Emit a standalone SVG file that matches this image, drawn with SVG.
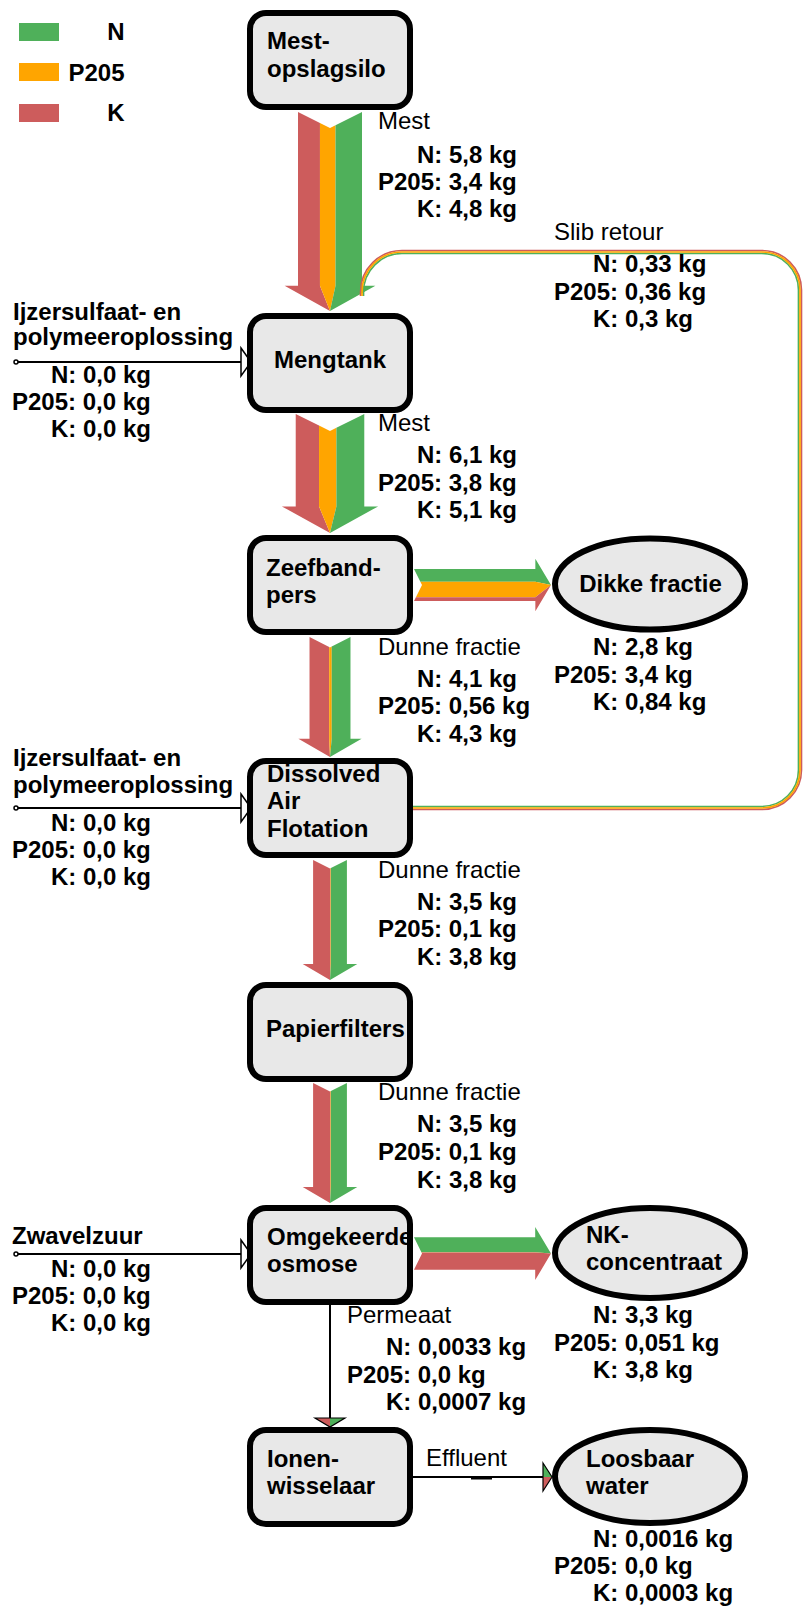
<svg xmlns="http://www.w3.org/2000/svg" width="804" height="1608" viewBox="0 0 804 1608">
<style>
  text { font-family: "Liberation Sans", Arial, Helvetica, sans-serif; font-size: 24px; fill: #000; }
  .b { font-weight: bold; }
  .r { font-weight: normal; }
  .end { text-anchor: end; }
  .mid { text-anchor: middle; }
  .box { fill: #e8e8e8; stroke: #000; stroke-width: 6; }
  .n { fill: #4fb05a; }
  .p { fill: #ffa500; }
  .k { fill: #cd5c5c; }
  .sn { fill: none; stroke: #4fb05a; stroke-width: 1.6; }
  .sp { fill: none; stroke: #ffa500; stroke-width: 1.7; }
  .sk { fill: none; stroke: #cd5c5c; stroke-width: 1.6; }
  .wire { fill: none; stroke: #000; stroke-width: 2; }
  .open { fill: #fff; stroke: #000; stroke-width: 1.5; stroke-linejoin: miter; }
  .head { fill: none; stroke: #000; stroke-width: 1.2; }
</style>
<defs>
  <!-- Dunne fractie flow: K 3,8 / P205 0,1 / N 3,5 -->
  <g id="thin-flow">
    <polygon class="k" points="313.09,860 330,868.5 330.46,868.27 330.46,963.9 330,980 302.7,963.9 313.09,963.9"/>
    <polygon class="p" points="330.46,868.27 330.91,868.04 330.91,963.9 330,980 330.46,963.9"/>
    <polygon class="n" points="330.91,868.04 346.91,860 346.91,963.9 357.3,963.9 330,980 330.91,963.9"/>
  </g>
</defs>

<!-- legend -->
<g id="legend">
  <rect class="n" x="19" y="23" width="40" height="18"/>
  <rect class="p" x="19" y="63" width="40" height="18"/>
  <rect class="k" x="19" y="104" width="40" height="18"/>
  <text class="b end" x="124.5" y="40">N</text>
  <text class="b end" x="124.5" y="81">P205</text>
  <text class="b end" x="124.5" y="121">K</text>
</g>

<g id="connectors">
  <!-- Mest: opslagsilo -> Mengtank -->
  <g id="flow-mest-1">
    <polygon class="k" points="298,112 319.95,122.97 319.95,285.8 330,311 284.6,285.8 298,285.8"/>
    <polygon class="p" points="319.95,122.97 330,128 335.5,125.25 335.5,285.8 330,311 319.95,285.8"/>
    <polygon class="n" points="335.5,125.25 362,112 362,285.8 375.4,285.8 330,311 335.5,285.8"/>
  </g>
  <!-- Mest: Mengtank -> Zeefbandpers -->
  <g id="flow-mest-2">
    <polygon class="k" points="295.72,414 319.03,425.56 319.03,506.4 330,533 281.9,506.4 295.72,506.4"/>
    <polygon class="p" points="319.03,425.56 330,431 336.4,427.83 336.4,506.4 330,533 319.03,506.4"/>
    <polygon class="n" points="336.4,427.83 364.28,414 364.28,506.4 378.1,506.4 330,533 336.4,506.4"/>
  </g>
  <!-- Dunne fractie: Zeefbandpers -> DAF -->
  <g id="flow-dunne-1">
    <polygon class="k" points="309.53,637 329.18,647.08 329.18,738.7 330,757 298.4,738.7 309.53,738.7"/>
    <polygon class="p" points="329.18,647.08 330,647.5 331.74,646.61 331.74,738.7 330,757 329.18,738.7"/>
    <polygon class="n" points="331.74,646.61 350.48,637 350.48,738.7 361.6,738.7 330,757 331.74,738.7"/>
  </g>
  <!-- Dunne fractie: DAF -> Papierfilters -->
  <use id="flow-dunne-2" href="#thin-flow"/>
  <!-- Dunne fractie: Papierfilters -> Omgekeerde osmose -->
  <use id="flow-dunne-3" href="#thin-flow" transform="translate(0,223)"/>
  <!-- Zeefbandpers -> Dikke fractie -->
  <g id="flow-dikke">
    <polygon class="n" points="414,568.91 535.35,568.91 535.35,558.7 551,585 535.35,581.71 420.36,581.71"/>
    <polygon class="p" points="420.36,581.71 535.35,581.71 551,585 535.35,597.25 415.91,597.25 422,585"/>
    <polygon class="k" points="415.91,597.25 535.35,597.25 551,585 535.35,611.3 535.35,601.09 414,601.09"/>
  </g>
  <!-- Omgekeerde osmose -> NK-concentraat -->
  <g id="flow-nk">
    <polygon class="n" points="414,1237.16 535.2,1237.16 535.2,1226.9 551,1253.5 535.2,1252.24 421.38,1252.24"/>
    <polygon class="p" points="421.38,1252.24 535.2,1252.24 551,1253.5 535.2,1252.47 421.5,1252.47"/>
    <polygon class="k" points="421.5,1252.47 535.2,1252.47 551,1253.5 535.2,1280.1 535.2,1269.84 414,1269.84 422,1253.5"/>
  </g>
  <!-- Slib retour: DAF -> Mengtank -->
  <g id="flow-slib">
    <path class="sk" d="M413 809.5 H762 A39.5 39.5 0 0 0 801.5 770 V290 A39.5 39.5 0 0 0 762 250.5 H402 A41.5 41.5 0 0 0 360.5 292 V296"/>
    <path class="sn" d="M413 806.45 H762 A36.45 36.45 0 0 0 798.45 770 V290 A36.45 36.45 0 0 0 762 253.55 H402 A38.45 38.45 0 0 0 363.55 292 V296"/>
    <path class="sp" d="M413 808 H762 A38 38 0 0 0 800 770 V290 A38 38 0 0 0 762 252 H402 A40 40 0 0 0 362 292 V296"/>
  </g>
  <!-- dosing inputs -->
  <g id="input-mengtank">
    <line class="wire" x1="18" y1="362" x2="241" y2="362"/>
    <circle class="open" cx="16" cy="362" r="2"/>
    <polygon class="open" points="241,348 251,362 241,376"/>
  </g>
  <g id="input-daf">
    <line class="wire" x1="18" y1="808" x2="241" y2="808"/>
    <circle class="open" cx="16" cy="808" r="2"/>
    <polygon class="open" points="241,794 251,808 241,822"/>
  </g>
  <g id="input-osmose">
    <line class="wire" x1="18" y1="1254" x2="241" y2="1254"/>
    <circle class="open" cx="16" cy="1254" r="2"/>
    <polygon class="open" points="241,1240 251,1254 241,1268"/>
  </g>
  <!-- Permeaat -->
  <g id="flow-permeaat">
    <line class="wire" x1="330" y1="1303" x2="330" y2="1418"/>
    <polygon class="k" points="315,1418 330,1418 330,1427"/>
    <polygon class="n" points="330,1418 345,1418 330,1427"/>
    <polygon class="head" points="315,1418 345,1418 330,1427"/>
  </g>
  <!-- Effluent -->
  <g id="flow-effluent">
    <line class="wire" x1="413" y1="1477" x2="543" y2="1477"/>
    <rect x="471" y="1476.5" width="21" height="3" fill="#000"/>
    <polygon class="n" points="543,1463 543,1477 552,1477"/>
    <polygon class="k" points="543,1477 543,1491 552,1477"/>
    <polygon class="head" points="543,1463 552,1477 543,1491"/>
  </g>
</g>

<!-- process nodes -->
<g id="node-opslagsilo">
  <rect class="box" x="250" y="13" width="160" height="94" rx="16"/>
  <text class="b" x="267" y="49">Mest-</text>
  <text class="b" x="267" y="77">opslagsilo</text>
</g>
<g id="node-mengtank">
  <rect class="box" x="250" y="316" width="160" height="94" rx="16"/>
  <text class="b mid" x="330" y="368">Mengtank</text>
</g>
<g id="node-zeefbandpers">
  <rect class="box" x="250" y="538" width="160" height="94" rx="16"/>
  <text class="b" x="266" y="576">Zeefband-</text>
  <text class="b" x="266" y="603">pers</text>
</g>
<g id="node-daf">
  <rect class="box" x="250" y="761" width="160" height="94" rx="16"/>
  <text class="b" x="267" y="782">Dissolved</text>
  <text class="b" x="267" y="809">Air</text>
  <text class="b" x="267" y="837">Flotation</text>
</g>
<g id="node-papierfilters">
  <rect class="box" x="250" y="985" width="160" height="94" rx="16"/>
  <text class="b" x="266" y="1037">Papierfilters</text>
</g>
<g id="node-osmose">
  <rect class="box" x="250" y="1208" width="160" height="94" rx="16"/>
  <text class="b" x="267" y="1245">Omgekeerde</text>
  <text class="b" x="267" y="1272">osmose</text>
</g>
<g id="node-ionenwisselaar">
  <rect class="box" x="250" y="1430" width="160" height="94" rx="16"/>
  <text class="b" x="267" y="1467">Ionen-</text>
  <text class="b" x="267" y="1494">wisselaar</text>
</g>

<!-- end products -->
<g id="node-dikke-fractie">
  <ellipse class="box" cx="650" cy="584" rx="95" ry="45.5"/>
  <text class="b mid" x="650.5" y="592">Dikke fractie</text>
</g>
<g id="node-nk-concentraat">
  <ellipse class="box" cx="650" cy="1253" rx="95" ry="45"/>
  <text class="b" x="586" y="1243">NK-</text>
  <text class="b" x="586" y="1270">concentraat</text>
</g>
<g id="node-loosbaar-water">
  <ellipse class="box" cx="650" cy="1476.5" rx="95" ry="46.5"/>
  <text class="b" x="586" y="1467">Loosbaar</text>
  <text class="b" x="586" y="1494">water</text>
</g>

<!-- flow labels -->
<g id="labels">
  <text class="r" x="378" y="129">Mest</text>
  <text class="b" x="417" y="163">N: 5,8 kg</text>
  <text class="b" x="378" y="190">P205: 3,4 kg</text>
  <text class="b" x="417" y="217">K: 4,8 kg</text>

  <text class="r" x="554" y="240">Slib retour</text>
  <text class="b" x="593" y="272">N: 0,33 kg</text>
  <text class="b" x="554" y="299.5">P205: 0,36 kg</text>
  <text class="b" x="593" y="327">K: 0,3 kg</text>

  <text class="b" x="13" y="320">Ijzersulfaat- en</text>
  <text class="b" x="13" y="345">polymeeroplossing</text>
  <text class="b" x="51" y="383">N: 0,0 kg</text>
  <text class="b" x="12" y="410">P205: 0,0 kg</text>
  <text class="b" x="51" y="437">K: 0,0 kg</text>

  <text class="r" x="378" y="431">Mest</text>
  <text class="b" x="417" y="463">N: 6,1 kg</text>
  <text class="b" x="378" y="491">P205: 3,8 kg</text>
  <text class="b" x="417" y="518">K: 5,1 kg</text>

  <text class="r" x="378" y="655">Dunne fractie</text>
  <text class="b" x="417" y="687">N: 4,1 kg</text>
  <text class="b" x="378" y="714">P205: 0,56 kg</text>
  <text class="b" x="417" y="742">K: 4,3 kg</text>

  <text class="b" x="593" y="655">N: 2,8 kg</text>
  <text class="b" x="554" y="683">P205: 3,4 kg</text>
  <text class="b" x="593" y="710">K: 0,84 kg</text>

  <text class="b" x="13" y="766">Ijzersulfaat- en</text>
  <text class="b" x="13" y="793">polymeeroplossing</text>
  <text class="b" x="51" y="831">N: 0,0 kg</text>
  <text class="b" x="12" y="858">P205: 0,0 kg</text>
  <text class="b" x="51" y="885">K: 0,0 kg</text>

  <text class="r" x="378" y="878">Dunne fractie</text>
  <text class="b" x="417" y="910">N: 3,5 kg</text>
  <text class="b" x="378" y="937">P205: 0,1 kg</text>
  <text class="b" x="417" y="965">K: 3,8 kg</text>

  <text class="r" x="378" y="1100">Dunne fractie</text>
  <text class="b" x="417" y="1132">N: 3,5 kg</text>
  <text class="b" x="378" y="1160">P205: 0,1 kg</text>
  <text class="b" x="417" y="1188">K: 3,8 kg</text>

  <text class="b" x="12" y="1244">Zwavelzuur</text>
  <text class="b" x="51" y="1277">N: 0,0 kg</text>
  <text class="b" x="12" y="1304">P205: 0,0 kg</text>
  <text class="b" x="51" y="1331">K: 0,0 kg</text>

  <text class="b" x="593" y="1323">N: 3,3 kg</text>
  <text class="b" x="554" y="1351">P205: 0,051 kg</text>
  <text class="b" x="593" y="1378">K: 3,8 kg</text>

  <text class="r" x="347" y="1323">Permeaat</text>
  <text class="b" x="386" y="1355">N: 0,0033 kg</text>
  <text class="b" x="347" y="1383">P205: 0,0 kg</text>
  <text class="b" x="386" y="1410">K: 0,0007 kg</text>

  <text class="r" x="426" y="1466">Effluent</text>

  <text class="b" x="593" y="1547">N: 0,0016 kg</text>
  <text class="b" x="554" y="1574">P205: 0,0 kg</text>
  <text class="b" x="593" y="1601">K: 0,0003 kg</text>
</g>
</svg>
